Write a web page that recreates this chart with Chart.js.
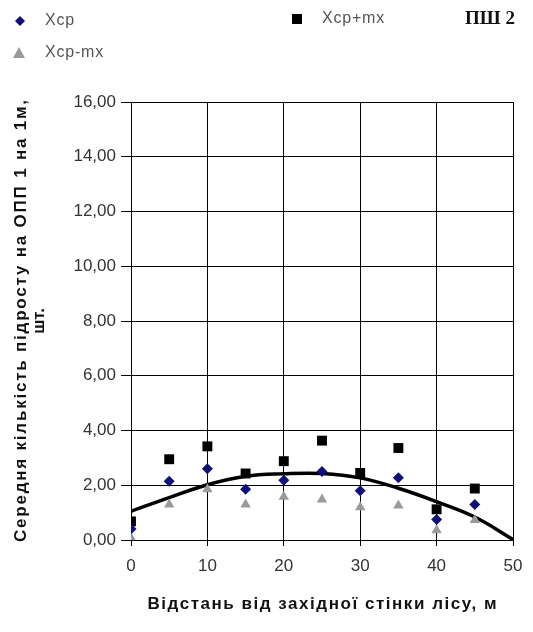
<!DOCTYPE html>
<html>
<head>
<meta charset="utf-8">
<script src="https://cdn.jsdelivr.net/npm/chart.js@4.4.1/dist/chart.umd.min.js"></script>
<style>
html,body{margin:0;padding:0;background:#fff;}
#wrap{position:relative;width:533px;height:632px;}
</style>
</head>
<body>
<div id="wrap"><canvas id="c" width="533" height="632"></canvas></div>
<script>
// Distance from western forest wall, m
const distances = [0, 5, 10, 15, 20, 25, 30, 35, 40, 45];
const xcp      = [0.40, 2.15, 2.60, 1.85, 2.18, 2.50, 1.80, 2.27, 0.75, 1.30];
const xcpPlus  = [0.68, 2.95, 3.42, 2.43, 2.88, 3.63, 2.45, 3.36, 1.12, 1.88];
const xcpMinus = [0.08, 1.30, 1.85, 1.30, 1.58, 1.48, 1.20, 1.26, 0.36, 0.73];
// Trend line
const trendX = [0, 5, 10, 15, 20, 25, 30, 35, 40, 45, 50];
const trendY = [1.05, 1.55, 2.02, 2.33, 2.42, 2.43, 2.27, 1.89, 1.40, 0.84, 0.02];
const yTicks = [0, 2, 4, 6, 8, 10, 12, 14, 16];
const xTicks = [0, 10, 20, 30, 40, 50];
const xTitle = 'Відстань від західної стінки лісу, м';
const yTitle = ['Середня кількість підросту на ОПП 1 на 1м,', 'шт.'];

const toPts = (xs, ys) => xs.map((x, i) => ({x: x, y: ys[i]}));

function spacedText(ctx, text, x, y, width) {
  ctx.letterSpacing = '0px';
  const w = ctx.measureText(text).width;
  let sp = 0;
  if (width) sp = (width - w) / Math.max(1, text.length - 1);
  ctx.letterSpacing = sp + 'px';
  const w2 = ctx.measureText(text).width - sp;
  ctx.textAlign = 'left';
  ctx.fillText(text, x - w2 / 2, y);
  ctx.letterSpacing = '0px';
}

const decorPlugin = {
  id: 'decor',
  afterDraw(chart) {
    const ctx = chart.ctx;
    const area = chart.chartArea;
    ctx.save();
    ctx.textBaseline = 'middle';
    // legend markers
    ctx.fillStyle = '#10107a';
    ctx.beginPath();
    ctx.moveTo(20, 16); ctx.lineTo(25, 21); ctx.lineTo(20, 26); ctx.lineTo(15, 21); ctx.closePath(); ctx.fill();
    ctx.fillStyle = '#000';
    ctx.fillRect(292, 14, 10, 10);
    ctx.fillStyle = '#9a9a9a';
    ctx.beginPath();
    ctx.moveTo(19, 47); ctx.lineTo(25, 58); ctx.lineTo(13, 58); ctx.closePath(); ctx.fill();
    // legend texts
    ctx.font = '16px "Liberation Sans", Arial, sans-serif';
    ctx.fillStyle = '#555';
    ctx.textAlign = 'left';
    ctx.letterSpacing = '0.8px';
    ctx.fillText('Xcp', 45, 21);
    ctx.fillText('Xcp+mx', 322, 19);
    ctx.fillText('Xcp-mx', 45, 53);
    ctx.letterSpacing = '0px';
    ctx.fillStyle = '#111';
    ctx.font = 'bold 19px "Liberation Serif", "Times New Roman", serif';
    ctx.fillText('ПШ 2', 465, 19);
    // axis titles
    ctx.fillStyle = '#111';
    ctx.font = 'bold 17px "Liberation Sans", Arial, sans-serif';
    spacedText(ctx, xTitle, (area.left + area.right) / 2, 604, 349);
    ctx.save();
    const cy = (area.top + area.bottom) / 2;
    ctx.translate(21, cy);
    ctx.rotate(-Math.PI / 2);
    spacedText(ctx, yTitle[0], 0, 0, 442);
    ctx.restore();
    ctx.save();
    ctx.translate(39, cy);
    ctx.rotate(-Math.PI / 2);
    spacedText(ctx, yTitle[1], 0, 0, 0);
    ctx.restore();
    ctx.restore();
  }
};

new Chart(document.getElementById('c'), {
  type: 'scatter',
  data: {
    datasets: [
      {label: 'Xcp', data: toPts(distances, xcp), pointStyle: 'rectRot', pointRadius: 5.5, pointHoverRadius: 5.5,
       backgroundColor: '#10107a', borderColor: '#10107a', borderWidth: 0, order: 1},
      {label: 'Xcp+mx', data: toPts(distances, xcpPlus), pointStyle: 'rect', pointRadius: 7, pointHoverRadius: 7,
       backgroundColor: '#000', borderColor: '#000', borderWidth: 0, order: 2},
      {label: 'Xcp-mx', data: toPts(distances, xcpMinus), pointStyle: 'triangle', pointRadius: 6, pointHoverRadius: 6,
       backgroundColor: '#9a9a9a', borderColor: '#9a9a9a', borderWidth: 0, order: 3},
      {label: 'trend', data: toPts(trendX, trendY), showLine: true, pointRadius: 0, borderColor: '#000',
       borderWidth: 3.5, tension: 0.4, fill: false, order: 10}
    ]
  },
  options: {
    responsive: false,
    devicePixelRatio: 1,
    animation: false,
    layout: {padding: {left: 0, top: 102, right: 20, bottom: 0}},
    plugins: {legend: {display: false}, tooltip: {enabled: false}},
    scales: {
      x: {
        type: 'linear', min: 0, max: 50,
        afterBuildTicks: s => { s.ticks = xTicks.map(v => ({value: v})); },
        afterFit: s => { s.height = 92; },
        grid: {color: '#000', lineWidth: 1, tickLength: 6, tickColor: '#000'},
        border: {color: '#000', width: 1},
        ticks: {color: '#333', padding: 10, font: {family: '"Liberation Sans", Arial, sans-serif', size: 17}, maxRotation: 0},
        title: {display: false}
      },
      y: {
        type: 'linear', min: 0, max: 16,
        afterBuildTicks: s => { s.ticks = yTicks.map(v => ({value: v})); },
        afterFit: s => { s.width = 131; },
        grid: {color: '#000', lineWidth: 1, tickLength: 10, tickColor: '#000'},
        border: {color: '#000', width: 1},
        ticks: {color: '#333', padding: 5, font: {family: '"Liberation Sans", Arial, sans-serif', size: 17},
                callback: v => v.toFixed(2).replace('.', ',')},
        title: {display: false}
      }
    }
  },
  plugins: [decorPlugin]
});
</script>
</body>
</html>
